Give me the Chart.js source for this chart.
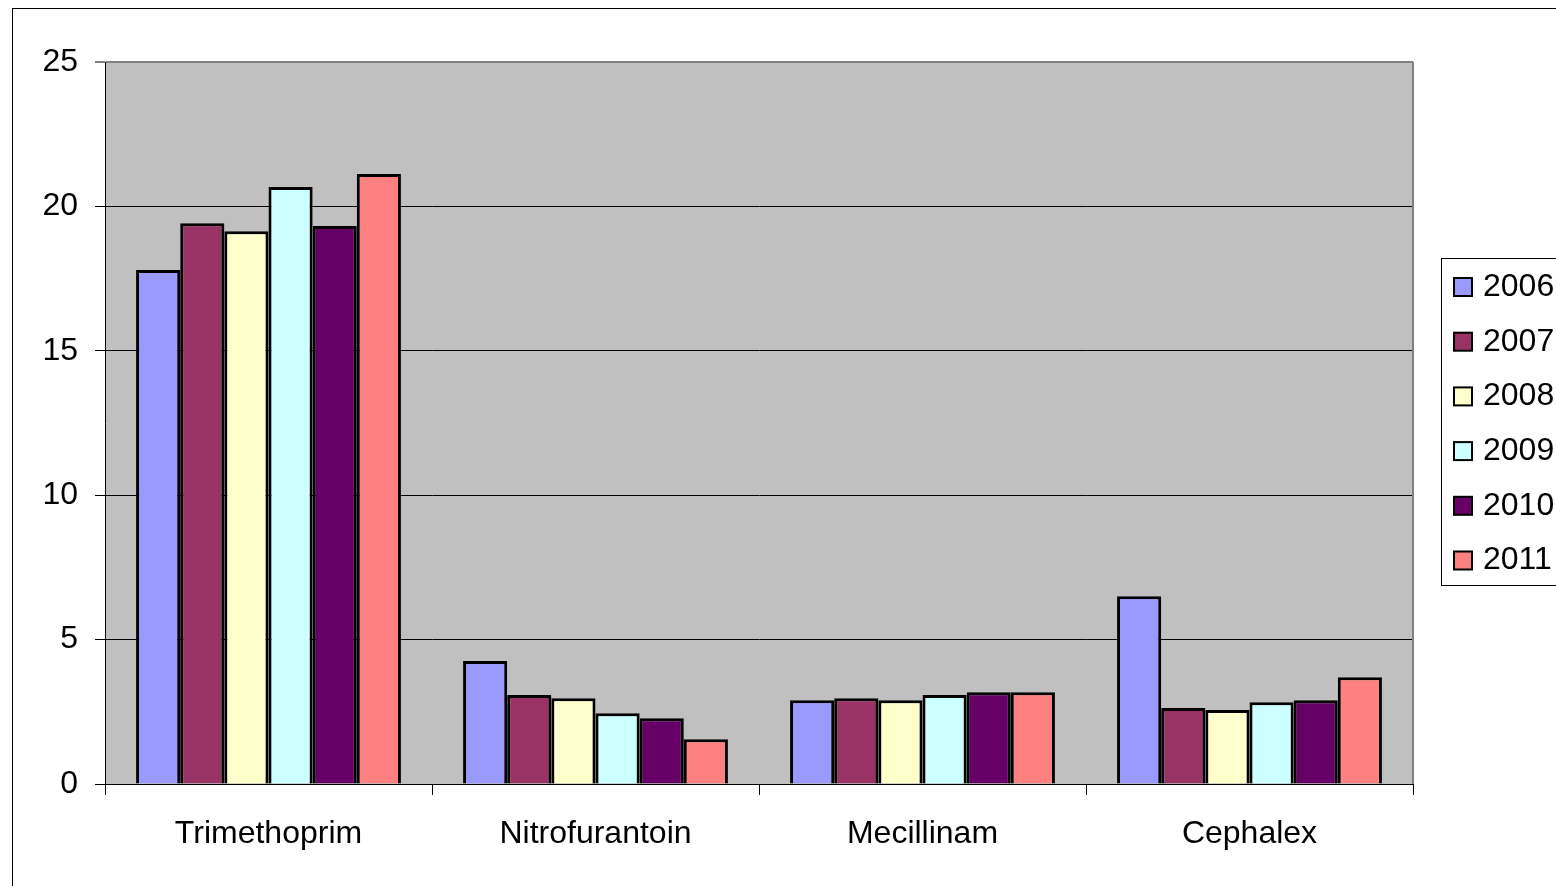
<!DOCTYPE html>
<html>
<head>
<meta charset="utf-8">
<script src="https://cdn.jsdelivr.net/npm/chart.js@4"></script>
<style>
  html, body { margin: 0; padding: 0; background: #fff; }
  canvas { display: block; }
</style>
</head>
<body>
<canvas id="chart" width="1556" height="886"></canvas>
<script>
const categories = ['Trimethoprim', 'Nitrofurantoin', 'Mecillinam', 'Cephalex'];
const years = ['2006', '2007', '2008', '2009', '2010', '2011'];
const values2006 = [17.8, 4.26, 2.9, 6.5];
const values2007 = [19.42, 3.08, 2.97, 2.63];
const values2008 = [19.14, 2.97, 2.9, 2.56];
const values2009 = [20.67, 2.45, 3.08, 2.83];
const values2010 = [19.32, 2.28, 3.18, 2.9];
const values2011 = [21.12, 1.55, 3.18, 3.7];
const yearColors = ['#9999FF', '#993366', '#FFFFCC', '#CCFFFF', '#660066', '#FF8080'];
const yTicks = [0, 5, 10, 15, 20, 25];

const seriesValues = [values2006, values2007, values2008, values2009, values2010, values2011];
const FONT = "'Liberation Sans', Arial, sans-serif";

// grey plot background + outer frame
const backdrop = {
    id: 'backdrop',
    beforeDraw(chart) {
        const {ctx, chartArea} = chart;
        ctx.save();
        ctx.fillStyle = '#fff';
        ctx.fillRect(0, 0, chart.width, chart.height);
        ctx.strokeStyle = '#000';
        ctx.lineWidth = 1;
        ctx.strokeRect(12.5, 8.5, 3000, 3000);
        ctx.fillStyle = '#C0C0C0';
        ctx.fillRect(chartArea.left, chartArea.top, chartArea.right - chartArea.left, chartArea.bottom - chartArea.top);
        ctx.restore();
    },
    afterDraw(chart) {
        const {ctx, chartArea} = chart;
        ctx.save();
        // right edge of plot area
        ctx.strokeStyle = '#808080';
        ctx.lineWidth = 2;
        ctx.beginPath();
        ctx.moveTo(chartArea.right, chartArea.top);
        ctx.lineTo(chartArea.right, chartArea.bottom);
        ctx.stroke();

        // legend
        ctx.strokeStyle = '#000';
        ctx.lineWidth = 1;
        ctx.fillStyle = '#fff';
        ctx.fillRect(1441.5, 258.5, 200, 327);
        ctx.strokeRect(1441.5, 258.5, 200, 327);
        ctx.font = '32px ' + FONT;
        ctx.textBaseline = 'middle';
        chart.data.datasets.forEach((ds, i) => {
            const cy = 287 + i * 54.7;
            ctx.fillStyle = ds.backgroundColor;
            ctx.fillRect(1454, cy - 9, 18, 18);
            ctx.lineWidth = 2;
            ctx.strokeStyle = '#000';
            ctx.strokeRect(1454, cy - 9, 18, 18);
            ctx.fillStyle = '#000';
            ctx.fillText(ds.label, 1483, cy);
        });
        ctx.restore();
    }
};

new Chart(document.getElementById('chart'), {
    type: 'bar',
    data: {
        labels: categories,
        datasets: years.map((y, i) => ({
            label: y,
            data: seriesValues[i],
            backgroundColor: yearColors[i],
            borderColor: '#000',
            borderWidth: 3,
            categoryPercentage: 0.81,
            barPercentage: 1
        }))
    },
    options: {
        responsive: false,
        animation: false,
        layout: { padding: { top: 62, right: 143, left: 0, bottom: 0 } },
        plugins: {
            legend: { display: false },
            tooltip: { enabled: false }
        },
        scales: {
            x: {
                offset: true,
                grid: {
                    offset: true,
                    drawOnChartArea: false,
                    tickLength: 11,
                    color: '#000'
                },
                border: { color: '#000', width: 1 },
                ticks: {
                    color: '#000',
                    font: { family: FONT, size: 32 },
                    padding: 20,
                    maxRotation: 0
                },
                afterFit(scale) { scale.height = 102; }
            },
            y: {
                min: 0,
                max: 25,
                afterBuildTicks(scale) { scale.ticks = yTicks.map(v => ({value: v})); },
                grid: {
                    tickLength: 10,
                    color: c => (c.tick && c.tick.value === 25) ? '#808080' : '#000',
                    lineWidth: c => (c.tick && c.tick.value === 25) ? 2 : 1
                },
                border: { color: '#000', width: 1 },
                ticks: {
                    color: '#000',
                    font: { family: FONT, size: 32 },
                    padding: 17
                },
                afterFit(scale) { scale.width = 105; }
            }
        }
    },
    plugins: [backdrop]
});
</script>
</body>
</html>
